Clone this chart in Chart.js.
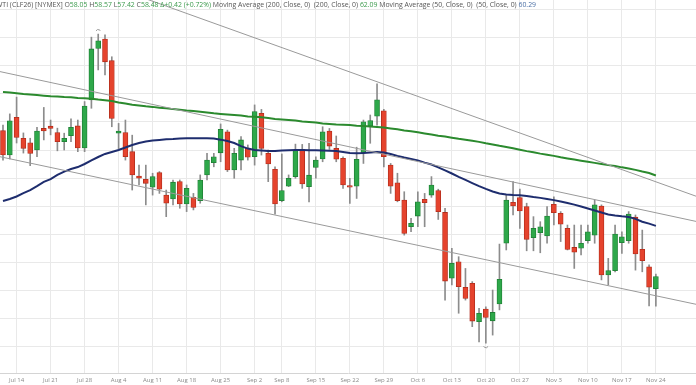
<!DOCTYPE html>
<html>
<head>
<meta charset="utf-8">
<script src="https://cdn.jsdelivr.net/npm/chart.js@4.4.1/dist/chart.umd.min.js"></script>
<style>
  html, body { margin: 0; padding: 0; background: #fff; }
  #wrap { position: relative; width: 696px; height: 385px; overflow: hidden; }
  #head { position: absolute; left: -4px; top: 0px; font: 6.9px "Open Sans", sans-serif; color: #555; white-space: nowrap; line-height: 10px; }
  #head .g { color: #3b9a4c; }
  #head .b { color: #4a6fa5; }
</style>
</head>
<body>
<div id="wrap">
  <canvas id="chart" width="696" height="385"></canvas>
  <div id="head">WTI (CLF26) [NYMEX] O<span class="g">58.05</span> H<span class="g">58.57</span> L<span class="g">57.42</span> C<span class="g">58.48</span> <span class="g">&Delta;+0.42 (+0.72%)</span> Moving Average (200, Close, 0) &nbsp;(200, Close, 0) <span class="g">62.09</span> Moving Average (50, Close, 0) &nbsp;(50, Close, 0) <span class="b">60.29</span></div>
</div>
<script>
// trading days shown
const dates = ['Jul 10','Jul 11','Jul 14','Jul 15','Jul 16','Jul 17','Jul 18','Jul 21','Jul 22','Jul 23','Jul 24','Jul 25',
  'Jul 28','Jul 29','Jul 30','Jul 31','Aug 1','Aug 4','Aug 5','Aug 6','Aug 7','Aug 8','Aug 11','Aug 12','Aug 13','Aug 14','Aug 15',
  'Aug 18','Aug 19','Aug 20','Aug 21','Aug 22','Aug 25','Aug 26','Aug 27','Aug 28','Aug 29','Sep 2','Sep 3','Sep 4','Sep 5',
  'Sep 8','Sep 9','Sep 10','Sep 11','Sep 12','Sep 15','Sep 16','Sep 17','Sep 18','Sep 19','Sep 22','Sep 23','Sep 24','Sep 25','Sep 26',
  'Sep 29','Sep 30','Oct 1','Oct 2','Oct 3','Oct 6','Oct 7','Oct 8','Oct 9','Oct 10','Oct 13','Oct 14','Oct 15','Oct 16','Oct 17',
  'Oct 20','Oct 21','Oct 22','Oct 23','Oct 24','Oct 27','Oct 28','Oct 29','Oct 30','Oct 31','Nov 3','Nov 4','Nov 5','Nov 6','Nov 7',
  'Nov 10','Nov 11','Nov 12','Nov 13','Nov 14','Nov 17','Nov 18','Nov 19','Nov 20','Nov 21','Nov 24'];

const tickLabels = ['Jul 14','Jul 21','Jul 28','Aug 4','Aug 11','Aug 18','Aug 25','Sep 2','Sep 8','Sep 15',
  'Sep 22','Sep 29','Oct 6','Oct 13','Oct 20','Oct 27','Nov 3','Nov 10','Nov 17','Nov 24'];

const priceTicks = [56, 57, 58, 59, 60, 61, 62, 63, 64, 65, 66, 67, 68];

const open = [63.69,62.82,64.17,63.42,63.26,63.00,63.77,63.85,63.62,63.30,63.51,63.86,
  63.07,64.79,66.63,66.96,66.19,63.60,63.62,62.94,62.07,61.95,61.67,62.19,61.39,61.25,61.87,
  61.07,61.31,61.19,62.11,62.55,62.90,63.65,62.29,62.64,63.06,62.76,64.31,62.88,62.31,
  61.19,61.71,62.05,63.02,61.69,62.38,62.68,63.68,63.06,62.70,61.73,61.71,62.90,63.86,64.21,
  64.40,62.46,61.83,61.21,60.26,60.64,61.24,61.39,61.55,60.77,58.42,59.01,58.10,58.24,56.87,
  57.32,56.90,57.50,59.67,61.13,61.30,60.98,59.87,60.05,59.93,61.06,60.74,60.20,59.52,59.49,
  59.76,59.96,61.00,58.54,58.69,59.69,59.76,60.60,59.45,58.83,58.05];
const high = [63.89,64.29,64.89,63.61,63.42,63.81,64.52,64.07,63.78,63.60,64.11,64.07,
  64.73,67.03,67.14,67.11,66.33,63.95,64.07,63.53,62.46,62.46,62.17,62.23,61.57,61.93,61.93,
  61.75,61.45,62.11,62.88,62.88,63.93,63.71,63.06,63.48,63.18,64.61,64.45,63.00,62.40,
  62.86,62.11,63.21,63.20,63.24,62.76,63.83,63.77,63.50,62.76,61.99,63.10,64.07,64.25,65.36,
  64.45,62.52,62.17,61.51,60.56,61.51,61.45,62.05,61.60,60.92,59.49,59.19,58.77,58.30,57.35,
  57.40,58.00,59.64,61.39,61.87,61.60,61.10,60.62,60.44,60.98,61.33,60.80,60.32,60.32,60.32,
  60.32,61.21,61.04,59.13,60.32,60.08,60.80,60.68,60.14,58.90,58.57];
const low = [62.64,62.68,63.25,62.89,62.44,62.76,63.36,63.54,62.97,63.00,63.30,62.94,
  62.94,64.49,65.86,65.68,63.83,63.05,62.64,61.57,61.75,61.04,61.39,61.45,60.62,61.04,60.92,
  60.80,60.86,61.10,61.93,62.40,62.58,62.23,61.99,62.29,62.64,62.46,62.82,61.87,60.71,
  61.15,61.69,61.99,61.63,61.15,61.99,62.58,63.02,62.58,61.63,61.09,61.27,62.52,63.24,63.89,
  62.40,61.45,61.15,59.96,60.08,60.26,60.26,61.31,60.52,57.64,58.18,57.17,57.64,56.69,56.15,
  56.10,56.39,57.29,59.43,60.68,60.20,59.40,59.40,59.33,59.67,60.32,59.73,59.43,58.77,59.25,
  59.67,59.67,58.36,58.18,58.65,59.31,59.67,58.71,58.65,57.43,57.42];
const close = [62.82,64.04,63.45,63.06,62.88,63.68,63.68,63.77,63.30,63.42,63.81,63.07,
  64.57,66.61,66.90,66.15,64.13,63.68,62.76,62.11,61.99,61.81,62.05,61.60,61.10,61.85,61.07,
  61.63,60.95,61.93,62.64,62.76,63.74,62.29,62.88,63.36,62.74,64.37,63.06,62.50,61.07,
  61.55,61.99,63.00,61.79,62.10,62.64,63.65,63.14,62.67,61.75,61.67,62.67,64.01,64.05,64.79,
  62.76,61.71,61.19,60.02,60.38,61.15,61.12,61.75,60.80,58.32,58.95,58.12,57.70,56.89,57.17,
  57.02,57.20,58.38,61.21,61.00,60.82,59.81,60.20,60.26,60.64,60.76,60.35,59.45,59.35,59.67,
  60.08,61.04,58.54,58.69,60.00,59.90,60.71,59.29,59.05,58.10,58.48];

// Moving Average (200, Close)
const ma200 = [65.07,65.05,65.03,65.00,64.98,64.96,64.94,64.92,64.91,64.89,64.88,64.86,
  64.85,64.83,64.80,64.78,64.75,64.70,64.66,64.62,64.59,64.56,64.54,64.51,64.49,64.46,64.44,
  64.41,64.39,64.37,64.34,64.31,64.29,64.27,64.25,64.23,64.20,64.19,64.17,64.14,64.11,
  64.09,64.07,64.05,64.02,64.00,63.98,63.95,63.93,63.91,63.90,63.89,63.87,63.86,63.84,63.82,
  63.80,63.77,63.74,63.70,63.67,63.63,63.59,63.55,63.51,63.48,63.44,63.40,63.37,63.33,63.29,
  63.24,63.20,63.15,63.11,63.06,63.01,62.96,62.92,62.87,62.83,62.79,62.74,62.70,62.66,62.62,
  62.58,62.54,62.50,62.46,62.43,62.38,62.34,62.29,62.23,62.18,62.09];
// Moving Average (50, Close)
const ma50 = [61.18,61.25,61.34,61.46,61.57,61.71,61.86,61.96,62.11,62.23,62.32,62.39,
  62.50,62.63,62.75,62.86,62.93,63.00,63.09,63.18,63.25,63.30,63.34,63.36,63.38,63.39,63.41,
  63.42,63.42,63.42,63.42,63.41,63.37,63.32,63.25,63.14,63.05,63.00,62.98,62.96,62.96,
  62.98,62.99,63.00,63.00,62.99,62.99,62.98,62.97,62.96,62.93,62.89,62.88,62.89,62.91,62.93,
  62.91,62.86,62.79,62.73,62.68,62.63,62.55,62.48,62.38,62.27,62.16,62.04,61.93,61.82,61.71,
  61.61,61.52,61.45,61.41,61.39,61.38,61.36,61.32,61.29,61.25,61.21,61.16,61.11,61.05,60.98,
  60.91,60.84,60.77,60.70,60.66,60.63,60.61,60.54,60.44,60.37,60.29];

// hand drawn trend lines, [day index, price] at both ends
const trendUpper = [[-0.44, 70.27], [101.9, 61.35]];
const trendMiddle = [[-0.44, 65.80], [101.9, 60.45]];
const trendLower = [[-0.44, 62.76], [101.9, 57.49]];

const GREEN = '#2ea84a', GREEN_EDGE = '#1f7d34';
const RED = '#e5432d', RED_EDGE = '#b02c1b';
const up = close.map((c, i) => c >= open[i]);

const pts = arr => arr.map((v, i) => ({ x: i, y: v }));
const seg = arr => arr.map(p => ({ x: p[0], y: p[1] }));

const lineDs = (data, color, width) => ({
  type: 'line', data, borderColor: color, borderWidth: width, pointRadius: 0,
  fill: false, tension: 0, order: 1
});

// small arcs marking the highest high and lowest low
const markers = {
  id: 'markers',
  afterDatasetsDraw(chart) {
    const { ctx, scales: { x, y } } = chart;
    const hi = high.indexOf(Math.max(...high));
    const lo = low.indexOf(Math.min(...low));
    ctx.save();
    ctx.strokeStyle = '#999';
    ctx.lineWidth = 1;
    ctx.beginPath();
    ctx.arc(x.getPixelForValue(hi), y.getPixelForValue(high[hi]) - 2, 2.5, Math.PI * 1.15, Math.PI * 1.85);
    ctx.stroke();
    ctx.beginPath();
    ctx.arc(x.getPixelForValue(lo), y.getPixelForValue(low[lo]) + 2, 2.5, Math.PI * 0.15, Math.PI * 0.85);
    ctx.stroke();
    ctx.restore();
  }
};

new Chart(document.getElementById('chart'), {
  type: 'bar',
  data: {
    datasets: [
      lineDs(seg(trendUpper), '#9a9a9a', 1),
      lineDs(seg(trendMiddle), '#9a9a9a', 1),
      lineDs(seg(trendLower), '#9a9a9a', 1),
      lineDs(pts(ma200), '#2b8a2e', 2),
      lineDs(pts(ma50), '#1e2d6e', 2),
      {
        // candle bodies
        data: open.map((o, i) => ({ x: i, y: [o, close[i]] })),
        backgroundColor: up.map(u => u ? GREEN : RED),
        borderColor: up.map(u => u ? GREEN_EDGE : RED_EDGE),
        borderWidth: 0.8, borderSkipped: false,
        barThickness: 5, minBarLength: 1, grouped: false, order: 2
      },
      {
        // wicks
        data: low.map((l, i) => ({ x: i, y: [l, high[i]] })),
        backgroundColor: '#8c8c8c',
        barThickness: 1, grouped: false, order: 3
      }
    ]
  },
  options: {
    responsive: false,
    animation: false,
    devicePixelRatio: 1,
    layout: { padding: 0 },
    plugins: { legend: { display: false }, tooltip: { enabled: false } },
    scales: {
      x: {
        type: 'linear',
        offset: false,
        min: -0.44, max: 101.9,
        afterBuildTicks: s => { s.ticks = tickLabels.map(l => ({ value: dates.indexOf(l) })); },
        afterFit: s => { s.height = 12; s.paddingLeft = 0; s.paddingRight = 0; },
        ticks: {
          autoSkip: false, maxRotation: 0, padding: 4,
          color: '#8a8a8a', font: { family: 'Open Sans', size: 6 },
          callback: v => dates[v]
        },
        grid: { color: '#e9e9e9', drawTicks: false, offset: false },
        border: { color: '#d4d4d4' }
      },
      y: {
        min: 55.036, max: 68.357,
        afterBuildTicks: s => { s.ticks = priceTicks.map(v => ({ value: v })); },
        afterFit: s => { s.width = 0; s.paddingTop = 0; s.paddingBottom = 0; },
        ticks: { display: false },
        grid: { color: '#e9e9e9', drawTicks: false },
        border: { display: false }
      }
    }
  },
  plugins: [markers]
});
</script>
</body>
</html>
